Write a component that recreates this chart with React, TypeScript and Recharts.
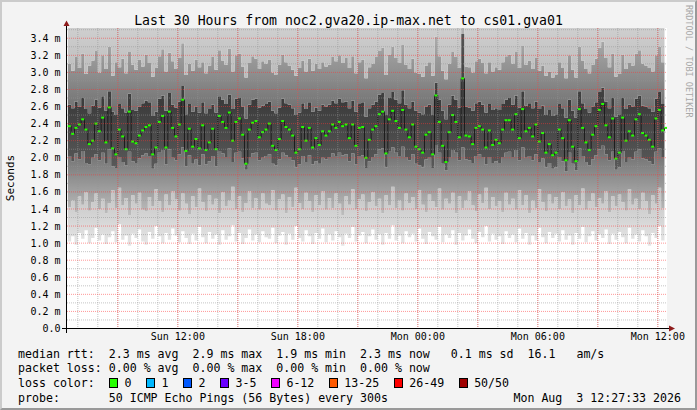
import { Area, CartesianGrid, ComposedChart, Line, XAxis, YAxis } from "recharts";

const W = 697;
const H = 410;
const MONO = "'DejaVu Sans Mono', 'Liberation Mono', monospace";

// time in minutes from Sun 00:00, window ends Mon 12:27:33
const X_DOMAIN: [number, number] = [387.55, 2187.55];
const Y_MAX = 3.52;
const STEP_START = 390;
const STEP_MIN = 10;
const SMOKE_TOP = 3.52;

// median rtt in ms, one value per 10 min
const MEDIAN = [
  2.37, 2.28, 2.35, 2.39, 2.45, 2.33, 2.16, 2.2, 2.4, 2.31,
  2.47, 2.18, 2.59, 2.11, 2.04, 2.33, 2.25, 2.1, 2.54, 2.19,
  2.17, 2.26, 2.32, 2.36, 2.38, 2.04, 2.12, 2.42, 2.49, 2.12,
  2.54, 2.35, 2.25, 2.39, 2.68, 2.08, 2.34, 2.13, 2.22, 2.11,
  2.38, 2.09, 2.18, 2.34, 2.1, 2.49, 2.42, 2.35, 2.53, 2.2,
  2.42, 2.46, 2.27, 1.93, 2.33, 2.41, 2.43, 2.24, 2.3, 2.33,
  2.4, 2.14, 2.09, 2.22, 2.43, 2.36, 2.33, 2.26, 2.06, 2.1,
  2.36, 2.2, 2.35, 2.12, 2.23, 2.15, 2.31, 2.26, 2.31, 2.39,
  2.35, 2.42, 2.37, 2.39, 2.23, 2.39, 2.14, 2.35, 2.36, 2.0,
  2.21, 2.33, 2.37, 2.51, 2.54, 2.05, 2.45, 2.55, 2.43, 2.35,
  2.56, 2.33, 2.24, 2.39, 2.13, 2.1, 2.06, 2.27, 2.3, 2.04,
  2.73, 2.42, 2.14, 1.95, 2.3, 2.5, 2.42, 2.24, 2.93, 2.26,
  2.25, 2.16, 2.35, 2.37, 2.33, 2.12, 2.32, 2.15, 2.21, 2.17,
  2.33, 2.44, 2.44, 2.33, 2.51, 2.23, 2.57, 2.31, 2.35, 2.25,
  2.39, 2.19, 2.29, 2.06, 2.16, 2.03, 2.06, 2.33, 2.23, 1.97,
  2.44, 2.13, 1.96, 2.57, 2.35, 2.18, 2.09, 2.27, 2.37, 2.56,
  2.63, 2.38, 2.24, 2.46, 1.99, 2.06, 2.47, 2.2, 2.31, 2.26,
  2.45, 2.51, 2.29, 2.26, 2.21, 2.13, 2.46, 2.56, 2.32, 2.35,
];

// smoke band edges (ms), bottom to top
const SMOKE_LO = [
  1.02, 1.08, 0.98, 1.12, 1.05, 1.15, 1.0, 1.06, 1.18, 1.03,
  1.1, 0.99, 1.07, 1.14, 1.01, 1.22, 1.04, 1.09, 0.97, 1.11,
  1.06, 1.16, 1.02, 0.98, 1.13, 1.05, 1.2, 1.08, 1.0, 1.12,
  1.04, 1.17, 1.09, 1.01, 1.14, 1.06, 0.99, 1.11, 1.03, 1.19,
  1.07, 1.0, 1.13, 1.05, 1.1, 0.98, 1.15, 1.04, 1.08, 1.21,
  1.02, 1.12, 0.99, 1.06, 1.16, 1.03, 1.1, 1.01, 1.14, 1.07,
  1.05, 1.18, 1.0, 1.09, 1.13, 0.98, 1.11, 1.04, 1.2, 1.06,
  1.02, 1.15, 1.08, 0.99, 1.12, 1.05, 1.17, 1.01, 1.1, 1.03,
  1.14, 1.07, 0.97, 1.11, 1.06, 1.19, 1.02, 1.09, 1.13, 1.0,
  1.08, 1.16, 1.04, 1.1, 0.98, 1.12, 1.05, 1.21, 1.03, 1.09,
  1.0, 1.14, 1.07, 1.11, 1.02, 1.17, 1.05, 0.99, 1.13, 1.08,
  1.04, 1.19, 1.01, 1.1, 1.06, 1.15, 0.98, 1.12, 1.03, 1.09,
  1.16, 1.05, 1.0, 1.13, 1.07, 1.2, 1.02, 1.11, 1.04, 1.08,
  0.99, 1.14, 1.06, 1.1, 1.01, 1.17, 1.05, 1.12, 0.98, 1.09,
  1.03, 1.18, 1.07, 1.0, 1.13, 1.06, 1.11, 1.02, 1.15, 1.04,
  1.09, 0.98, 1.12, 1.05, 1.19, 1.01, 1.08, 1.14, 1.03, 1.1,
  1.06, 1.16, 0.99, 1.11, 1.04, 1.13, 1.07, 1.0, 1.18, 1.05,
  1.1, 1.02, 1.15, 1.08, 0.97, 1.12, 1.06, 1.2, 1.03, 1.09,
];

const SMOKE_A = [
  1.42, 1.5, 1.36, 1.55, 1.45, 1.6, 1.38, 1.48, 1.58, 1.4,
  1.52, 1.35, 1.47, 1.62, 1.41, 1.65, 1.44, 1.53, 1.33, 1.56,
  1.46, 1.59, 1.39, 1.37, 1.54, 1.43, 1.63, 1.49, 1.36, 1.57,
  1.44, 1.61, 1.51, 1.38, 1.58, 1.46, 1.34, 1.55, 1.42, 1.64,
  1.48, 1.37, 1.56, 1.45, 1.52, 1.35, 1.6, 1.43, 1.5, 1.66,
  1.4, 1.55, 1.36, 1.47, 1.61, 1.41, 1.53, 1.39, 1.58, 1.46,
  1.44, 1.62, 1.38, 1.51, 1.57, 1.35, 1.54, 1.42, 1.65, 1.47,
  1.4, 1.59, 1.49, 1.36, 1.56, 1.44, 1.61, 1.39, 1.53, 1.41,
  1.58, 1.46, 1.33, 1.55, 1.45, 1.63, 1.4, 1.51, 1.57, 1.37,
  1.48, 1.6, 1.43, 1.52, 1.35, 1.56, 1.44, 1.66, 1.41, 1.5,
  1.38, 1.58, 1.47, 1.54, 1.4, 1.62, 1.45, 1.36, 1.57, 1.49,
  1.42, 1.64, 1.39, 1.52, 1.46, 1.59, 1.35, 1.55, 1.41, 1.5,
  1.61, 1.44, 1.37, 1.57, 1.47, 1.65, 1.4, 1.54, 1.43, 1.49,
  1.36, 1.59, 1.45, 1.52, 1.39, 1.62, 1.44, 1.56, 1.35, 1.5,
  1.41, 1.63, 1.48, 1.37, 1.57, 1.46, 1.54, 1.4, 1.6, 1.43,
  1.51, 1.35, 1.56, 1.44, 1.64, 1.39, 1.49, 1.58, 1.42, 1.53,
  1.46, 1.61, 1.36, 1.55, 1.43, 1.57, 1.48, 1.38, 1.63, 1.45,
  1.52, 1.4, 1.59, 1.49, 1.34, 1.56, 1.46, 1.65, 1.41, 1.51,
];

const SMOKE_B = [
  2.02, 1.96, 2.05, 1.98, 2.08, 1.94, 1.92, 2.0, 2.04, 1.97,
  2.06, 1.93, 2.1, 1.9, 1.88, 2.01, 1.95, 1.91, 2.07, 1.96,
  1.94, 1.99, 2.03, 2.05, 2.02, 1.87, 1.93, 2.06, 2.09, 1.92,
  2.1, 2.0, 1.97, 2.04, 2.12, 1.9, 2.03, 1.93, 1.98, 1.91,
  2.04, 1.92, 1.96, 2.02, 1.9, 2.08, 2.05, 2.01, 2.11, 1.95,
  2.06, 2.07, 1.99, 1.86, 2.01, 2.05, 2.06, 1.97, 2.0, 2.02,
  2.04, 1.93, 1.91, 1.98, 2.06, 2.03, 2.01, 1.97, 1.89, 1.92,
  2.02, 1.95, 2.03, 1.92, 1.96, 1.93, 2.0, 1.98, 2.01, 2.05,
  2.02, 2.06, 2.03, 2.04, 1.96, 2.05, 1.92, 2.02, 2.03, 1.88,
  1.96, 2.01, 2.04, 2.1, 2.11, 1.89, 2.07, 2.12, 2.06, 2.02,
  2.13, 2.01, 1.97, 2.04, 1.93, 1.91, 1.89, 1.98, 2.0, 1.88,
  2.15, 2.06, 1.93, 1.85, 2.0, 2.09, 2.06, 1.97, 2.12, 1.98,
  1.97, 1.94, 2.02, 2.04, 2.01, 1.92, 2.01, 1.94, 1.96, 1.94,
  2.01, 2.06, 2.07, 2.01, 2.09, 1.97, 2.12, 2.0, 2.02, 1.97,
  2.04, 1.95, 1.99, 1.89, 1.94, 1.87, 1.89, 2.01, 1.96, 1.84,
  2.06, 1.93, 1.85, 2.11, 2.02, 1.95, 1.91, 1.98, 2.03, 2.1,
  2.14, 2.04, 1.97, 2.07, 1.86, 1.89, 2.08, 1.95, 2.0, 1.98,
  2.07, 2.1, 1.99, 1.98, 1.96, 1.92, 2.07, 2.11, 2.01, 2.02,
];

const SMOKE_C = [
  2.62, 2.58, 2.66, 2.6, 2.7, 2.57, 2.52, 2.61, 2.68, 2.59,
  2.72, 2.55, 2.78, 2.54, 2.5, 2.63, 2.58, 2.53, 2.75, 2.56,
  2.55, 2.6, 2.64, 2.67, 2.65, 2.49, 2.54, 2.69, 2.73, 2.55,
  2.76, 2.62, 2.59, 2.66, 2.84, 2.51, 2.63, 2.54, 2.6, 2.53,
  2.65, 2.52, 2.57, 2.62, 2.53, 2.72, 2.68, 2.63, 2.74, 2.57,
  2.69, 2.7, 2.6, 2.46, 2.62, 2.68, 2.69, 2.59, 2.61, 2.63,
  2.66, 2.55, 2.52, 2.59, 2.69, 2.64, 2.62, 2.58, 2.5, 2.53,
  2.64, 2.57, 2.65, 2.54, 2.59, 2.55, 2.62, 2.6, 2.62, 2.67,
  2.64, 2.69, 2.65, 2.66, 2.58, 2.67, 2.54, 2.64, 2.65, 2.48,
  2.58, 2.62, 2.66, 2.74, 2.76, 2.5, 2.7, 2.77, 2.68, 2.64,
  2.79, 2.62, 2.58, 2.66, 2.55, 2.53, 2.51, 2.6, 2.62, 2.5,
  2.88, 2.68, 2.55, 2.45, 2.62, 2.73, 2.68, 2.59, 3.45, 2.6,
  2.59, 2.55, 2.64, 2.66, 2.62, 2.53, 2.63, 2.56, 2.58, 2.56,
  2.63, 2.68, 2.7, 2.62, 2.73, 2.59, 2.78, 2.61, 2.64, 2.58,
  2.66, 2.57, 2.61, 2.5, 2.56, 2.49, 2.51, 2.63, 2.58, 2.47,
  2.68, 2.55, 2.47, 2.78, 2.64, 2.57, 2.53, 2.6, 2.65, 2.77,
  2.82, 2.66, 2.58, 2.7, 2.48, 2.51, 2.7, 2.57, 2.62, 2.6,
  2.69, 2.73, 2.61, 2.6, 2.58, 2.54, 2.69, 2.77, 2.63, 2.64,
];

const SMOKE_D = [
  3.1, 3.02, 3.18, 3.05, 3.22, 2.98, 3.08, 3.14, 3.25, 3.0,
  3.2, 3.04, 3.3, 2.96, 3.12, 3.06, 3.16, 2.99, 3.24, 3.09,
  3.03, 3.15, 3.07, 3.21, 3.11, 2.95, 3.05, 3.19, 3.27, 3.01,
  3.23, 3.13, 3.04, 3.17, 3.34, 2.97, 3.1, 3.02, 3.15, 3.06,
  3.12, 2.99, 3.08, 3.18, 3.03, 3.26, 3.14, 3.09, 3.28, 3.01,
  3.2, 3.22, 3.07, 2.94, 3.11, 3.19, 3.16, 3.04, 3.13, 3.1,
  3.15, 3.0, 2.97, 3.09, 3.21, 3.12, 3.08, 3.03, 2.96, 3.05,
  3.14, 3.01, 3.16, 3.02, 3.1, 3.04, 3.12, 3.07, 3.09, 3.18,
  3.13, 3.2, 3.11, 3.17, 3.05, 3.19, 2.99, 3.12, 3.15, 2.93,
  3.06, 3.1, 3.18, 3.25, 3.29, 2.97, 3.21, 3.3, 3.17, 3.11,
  3.32, 3.09, 3.04, 3.16, 3.0, 2.98, 2.95, 3.08, 3.12, 2.96,
  3.42, 3.19, 3.02, 2.92, 3.1, 3.24, 3.18, 3.05, 3.52, 3.07,
  3.06, 3.0, 3.13, 3.16, 3.11, 2.99, 3.12, 3.01, 3.06, 3.03,
  3.12, 3.19, 3.21, 3.1, 3.24, 3.05, 3.31, 3.09, 3.14, 3.04,
  3.17, 3.02, 3.08, 2.96, 3.01, 2.94, 2.97, 3.12, 3.05, 2.93,
  3.2, 3.03, 2.94, 3.3, 3.14, 3.04, 2.99, 3.09, 3.16, 3.29,
  3.36, 3.17, 3.06, 3.22, 2.95, 2.98, 3.21, 3.04, 3.11, 3.08,
  3.22, 3.26, 3.1, 3.08, 3.05, 3.01, 3.2, 3.3, 3.12, 3.14,
];

const X_TICKS = [720, 1080, 1440, 1800, 2160];
const X_LABELS = ["Sun 12:00", "Sun 18:00", "Mon 00:00", "Mon 06:00", "Mon 12:00"];
const Y_TICKS = [0, 0.2, 0.4, 0.6, 0.8, 1.0, 1.2, 1.4, 1.6, 1.8, 2.0, 2.2, 2.4, 2.6, 2.8, 3.0, 3.2, 3.4];

const H_MINOR = Array.from({ length: 18 }, (_, i) => 0.1 + i * 0.2);
const H_MAJOR = Y_TICKS.slice(1);
const V_MINOR = Array.from({ length: 30 }, (_, i) => 420 + i * 60);
const V_MAJOR = Array.from({ length: 10 }, (_, i) => 540 + i * 180);

const TITLE = "Last 30 Hours from noc2.gva20.ip-max.net to cs01.gva01";
const LEGEND_RTT = "median rtt:  2.3 ms avg  2.9 ms max  1.9 ms min  2.3 ms now   0.1 ms sd  16.1   am/s";
const LEGEND_LOSS = "packet loss: 0.00 % avg  0.00 % max  0.00 % min  0.00 % now";
const LEGEND_PROBE = "probe:       50 ICMP Echo Pings (56 Bytes) every 300s";
const STAMP = "Mon Aug  3 12:27:33 2026";

const LOSS_LABELS = ["0", "1", "2", "3-5", "6-12", "13-25", "26-49", "50/50"];
const LOSS_COLORS = ["#26ff00", "#00b8ff", "#0059ff", "#6a00ff", "#f000ff", "#ff5a00", "#ff0000", "#a00000"];

const rows = MEDIAN.map((m, i) => ({
  t: STEP_START + i * STEP_MIN,
  median: m,
  lo: SMOKE_LO[i],
  a: SMOKE_A[i],
  b: SMOKE_B[i],
  c: SMOKE_C[i],
  d: SMOKE_D[i],
}));

const medianDot = (p: any) => (
  <rect key={`m${p.index}`} x={p.cx} y={p.cy - 1} width={3} height={2} fill="#26ff00" />
);

const textRow = (top: number): React.CSSProperties => ({
  position: "absolute",
  left: 16,
  top,
  fontFamily: MONO,
  fontSize: 11.6,
  lineHeight: "14px",
  whiteSpace: "pre",
  color: "#000",
});

export default function App() {
  return (
    <div
      style={{
        position: "absolute",
        left: 0,
        top: 0,
        width: W,
        height: H,
        background: "#f3f3f3",
        boxSizing: "border-box",
        borderTop: "2px solid #cbcbcb",
        borderLeft: "2px solid #cbcbcb",
        borderRight: "2px solid #999999",
        borderBottom: "2px solid #999999",
        overflow: "hidden",
      }}
    >
      <div style={{ position: "absolute", left: -2, top: -2 }}>
        <ComposedChart width={W} height={H} data={rows} margin={{ top: 28, right: 30, bottom: 81.5, left: 67 }}>
          <defs>
            <linearGradient id="s1" x1="0" y1="1" x2="0" y2="0">
              <stop offset="0%" stopColor="#e6e6e6" />
              <stop offset="100%" stopColor="#c2c2c2" />
            </linearGradient>
            <linearGradient id="s2" x1="0" y1="1" x2="0" y2="0">
              <stop offset="0%" stopColor="#bdbdbd" />
              <stop offset="100%" stopColor="#686868" />
            </linearGradient>
            <linearGradient id="s3" x1="0" y1="1" x2="0" y2="0">
              <stop offset="0%" stopColor="#5a5a5a" />
              <stop offset="50%" stopColor="#3c3c3c" />
              <stop offset="100%" stopColor="#545454" />
            </linearGradient>
            <linearGradient id="s4" x1="0" y1="1" x2="0" y2="0">
              <stop offset="0%" stopColor="#6a6a6a" />
              <stop offset="100%" stopColor="#b2b2b2" />
            </linearGradient>
            <linearGradient id="s5" x1="0" y1="1" x2="0" y2="0">
              <stop offset="0%" stopColor="#bababa" />
              <stop offset="100%" stopColor="#cfcfcf" />
            </linearGradient>
          </defs>
          <CartesianGrid fill="#ffffff" stroke="none" horizontal={false} vertical={false} />
          <XAxis type="number" dataKey="t" domain={X_DOMAIN} hide allowDataOverflow />
          <YAxis type="number" domain={[0, Y_MAX]} hide allowDataOverflow />
          <Area type="stepAfter" dataKey={(r: any) => [r.lo, r.a]} fill="url(#s1)" fillOpacity={1} stroke="none" isAnimationActive={false} />
          <Area type="stepAfter" dataKey={(r: any) => [r.a, r.b]} fill="url(#s2)" fillOpacity={1} stroke="none" isAnimationActive={false} />
          <Area type="stepAfter" dataKey={(r: any) => [r.b, r.c]} fill="url(#s3)" fillOpacity={1} stroke="none" isAnimationActive={false} />
          <Area type="stepAfter" dataKey={(r: any) => [r.c, r.d]} fill="url(#s4)" fillOpacity={1} stroke="none" isAnimationActive={false} />
          <Area type="stepAfter" dataKey={(r: any) => [r.d, SMOKE_TOP]} fill="url(#s5)" fillOpacity={1} stroke="none" isAnimationActive={false} />
          <Line
            type="stepAfter"
            dataKey="median"
            stroke="#1c1c1c"
            strokeWidth={1}
            dot={medianDot}
            activeDot={false}
            isAnimationActive={false}
          />
        </ComposedChart>
      </div>

      <div style={{ position: "absolute", left: -2, top: -2, pointerEvents: "none" }}>
        <ComposedChart width={W} height={H} data={rows} margin={{ top: 28, right: 30, bottom: 61.5, left: 7 }}>
          <XAxis
            type="number"
            dataKey="t"
            domain={X_DOMAIN}
            ticks={X_TICKS}
            interval={0}
            allowDataOverflow
            height={20}
            tickSize={0}
            tickMargin={4}
            axisLine={false}
            tickLine={false}
            tickFormatter={(v: number) => X_LABELS[X_TICKS.indexOf(v)]}
            tick={{ fontSize: 10, fill: "#000", fontFamily: MONO }}
          />
          <YAxis
            type="number"
            domain={[0, Y_MAX]}
            ticks={Y_TICKS}
            interval={0}
            allowDataOverflow
            width={60}
            tickSize={0}
            tickMargin={6.5}
            axisLine={false}
            tickLine={false}
            tickFormatter={(v: number) => (v === 0 ? "0.0" : `${v.toFixed(1)} m`)}
            tick={{ fontSize: 10, fill: "#000", fontFamily: MONO }}
          />
          <CartesianGrid
            stroke="rgba(150,150,150,0.55)"
            strokeDasharray="1 1"
            horizontalValues={H_MINOR}
            verticalValues={V_MINOR}
          />
          <CartesianGrid
            stroke="rgba(255,50,50,0.5)"
            strokeDasharray="1 1"
            horizontalValues={H_MAJOR}
            verticalValues={V_MAJOR}
          />
        </ComposedChart>
      </div>

      <svg width={W} height={H} style={{ position: "absolute", left: -2, top: -2, pointerEvents: "none" }}>
        <line x1={62} y1={328.5} x2={670} y2={328.5} stroke="#000" strokeWidth={1} />
        <line x1={66.5} y1={333} x2={66.5} y2={25} stroke="#000" strokeWidth={1} />
        <polygon points="66.5,20.5 63.5,26 69.5,26" fill="#8e1b1b" />
        <polygon points="675,328.5 669,325.5 669,331.5" fill="#8e1b1b" />
      </svg>

      <div
        style={{
          position: "absolute",
          left: -2,
          top: 11,
          width: W,
          textAlign: "center",
          fontFamily: MONO,
          fontSize: 13.2,
          lineHeight: "16px",
          whiteSpace: "pre",
          color: "#000",
        }}
      >
        {TITLE}
      </div>

      <div
        style={{
          position: "absolute",
          left: 9,
          top: 176,
          transform: "translate(-50%, -50%) rotate(-90deg)",
          fontFamily: MONO,
          fontSize: 11,
          lineHeight: "12px",
          whiteSpace: "pre",
          color: "#000",
        }}
      >
        Seconds
      </div>

      <div
        style={{
          position: "absolute",
          left: 682,
          top: 3,
          writingMode: "vertical-rl",
          fontFamily: MONO,
          fontSize: 8.5,
          lineHeight: "10px",
          whiteSpace: "pre",
          color: "#a8a8a8",
        }}
      >
        RRDTOOL / TOBI OETIKER
      </div>

      <div style={textRow(345)}>{LEGEND_RTT}</div>
      <div style={textRow(359)}>{LEGEND_LOSS}</div>
      <div style={textRow(374)}>loss color:</div>
      <div
        style={{
          position: "absolute",
          left: 107,
          top: 374,
          height: 14,
          display: "flex",
          alignItems: "center",
          fontFamily: MONO,
          fontSize: 11.6,
          lineHeight: "14px",
          whiteSpace: "pre",
        }}
      >
        {LOSS_LABELS.map((label, i) => (
          <span key={label} style={{ display: "flex", alignItems: "center", marginRight: 14.5 }}>
            <span
              style={{
                display: "inline-block",
                width: 9,
                height: 10,
                boxSizing: "border-box",
                border: "1px solid #000",
                background: LOSS_COLORS[i],
                marginRight: 6.5,
              }}
            />
            {label}
          </span>
        ))}
      </div>
      <div style={textRow(389)}>{LEGEND_PROBE}</div>
      <div style={{ ...textRow(389), left: "auto", right: 14 }}>{STAMP}</div>
    </div>
  );
}
